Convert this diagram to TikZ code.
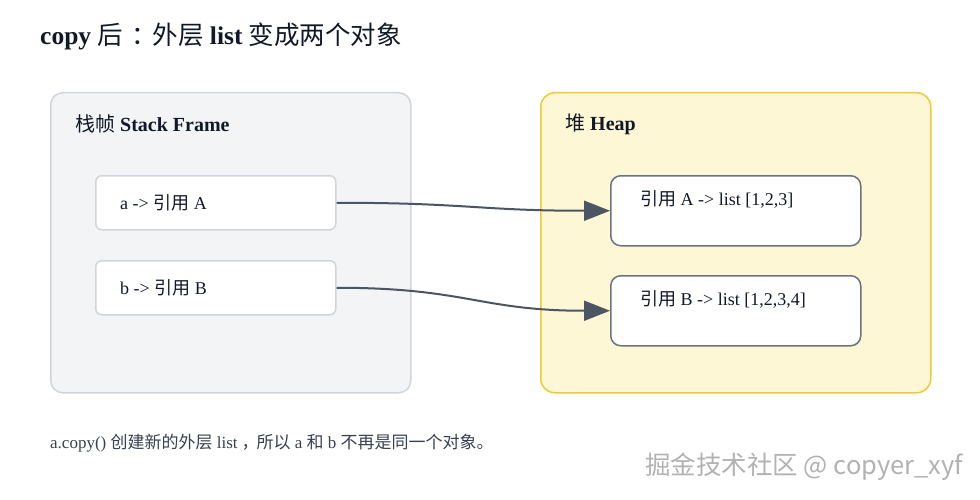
\documentclass[tikz,border=0pt]{standalone}
\usepackage{fontspec}
\setmainfont{Liberation Serif}
\newfontfamily\cjk{Noto Sans CJK SC}
\newfontfamily\wmfont{Noto Sans CJK SC}
\usetikzlibrary{arrows.meta}
\newcommand\zh[1]{{\cjk #1}}
\definecolor{stackfill}{HTML}{F3F4F6}
\definecolor{stackline}{HTML}{D1D5DB}
\definecolor{heapfill}{HTML}{FEF7D6}
\definecolor{heapline}{HTML}{EFCB33}
\definecolor{objline}{HTML}{6B7280}
\definecolor{arrowcol}{HTML}{4B5563}
\definecolor{txt}{HTML}{111827}
\definecolor{captxt}{HTML}{374151}
\tikzset{
  panel/.style={rounded corners=12pt, line width=1.5pt, anchor=north west, inner sep=0pt},
  refbox/.style={rounded corners=6pt, draw=stackline, line width=1.5pt, fill=white, anchor=north west, minimum width=240pt, minimum height=54pt, inner sep=0pt},
  objbox/.style={rounded corners=10pt, draw=objline, line width=1.5pt, fill=white, anchor=north west, minimum width=250pt, minimum height=70pt, inner sep=0pt},
  lbl/.style={anchor=west, inner sep=0pt, text=txt, font=\fontsize{20}{24}\selectfont\bfseries},
  boxtxt/.style={anchor=west, inner sep=0pt, text=txt, font=\fontsize{18}{22}\selectfont},
  ptr/.style={draw=arrowcol, line width=2pt, -{Triangle[length=26pt,width=20pt]}},
}
\begin{document}
\begin{tikzpicture}[x=1pt,y=-1pt]
\useasboundingbox (0,0) rectangle (980,500);
\fill[white] (0,0) rectangle (980,500);
\node[anchor=base west, inner sep=0pt, text=txt, font=\fontsize{25.5}{30}\selectfont] (title) at (40,45) {\textbf{copy} \zh{后}\hspace{8pt}\zh{：}\hspace{-4pt}\zh{外层} \textbf{list} \zh{变成两个对象}};

\node[panel, draw=stackline, fill=stackfill, minimum width=360pt, minimum height=300pt] (stack) at (50,92) {};
\node[lbl] (stacklbl) at (75,124) {\zh{\mdseries 栈帧} Stack Frame};
\node[refbox] (a) at (95,175) {};
\node[boxtxt] (atxt) at (120,203) {a -> \zh{引用} A};
\node[refbox] (b) at (95,260) {};
\node[boxtxt] (btxt) at (120,288) {b -> \zh{引用} B};

\node[panel, draw=heapline, fill=heapfill, minimum width=390pt, minimum height=300pt, rounded corners=14pt] (heap) at (540,92) {};
\node[lbl] (heaplbl) at (565,124) {\zh{\mdseries 堆} Heap};
\node[objbox] (hA) at (610,175) {};
\node[boxtxt] (hAtxt) at (640,199) {\zh{引用} A -> list [1,2,3]};
\node[objbox] (hB) at (610,275) {};
\node[boxtxt] (hBtxt) at (640,299) {\zh{引用} B -> list [1,2,3,4]};

\draw[ptr] (a.east) .. controls +(130,0) and +(-130,0) .. (hA.west);
\draw[ptr] (b.east) .. controls +(130,0) and +(-130,0) .. (hB.west);

\node[anchor=west, inner sep=0pt, text=captxt, font=\fontsize{17}{20}\selectfont] (caption) at (50,443) {a.copy() \zh{创建新的外层} list\hspace{4pt}\zh{，}\hspace{-2pt}\zh{所以} a \zh{和} b \zh{不再是同一个对象。}};

\node[anchor=west, inner sep=0pt, text=black!30, font=\wmfont\fontsize{25.5}{28}\selectfont] (wm) at (645,467) {掘金技术社区 @ copyer\_xyf};
\end{tikzpicture}
\end{document}
